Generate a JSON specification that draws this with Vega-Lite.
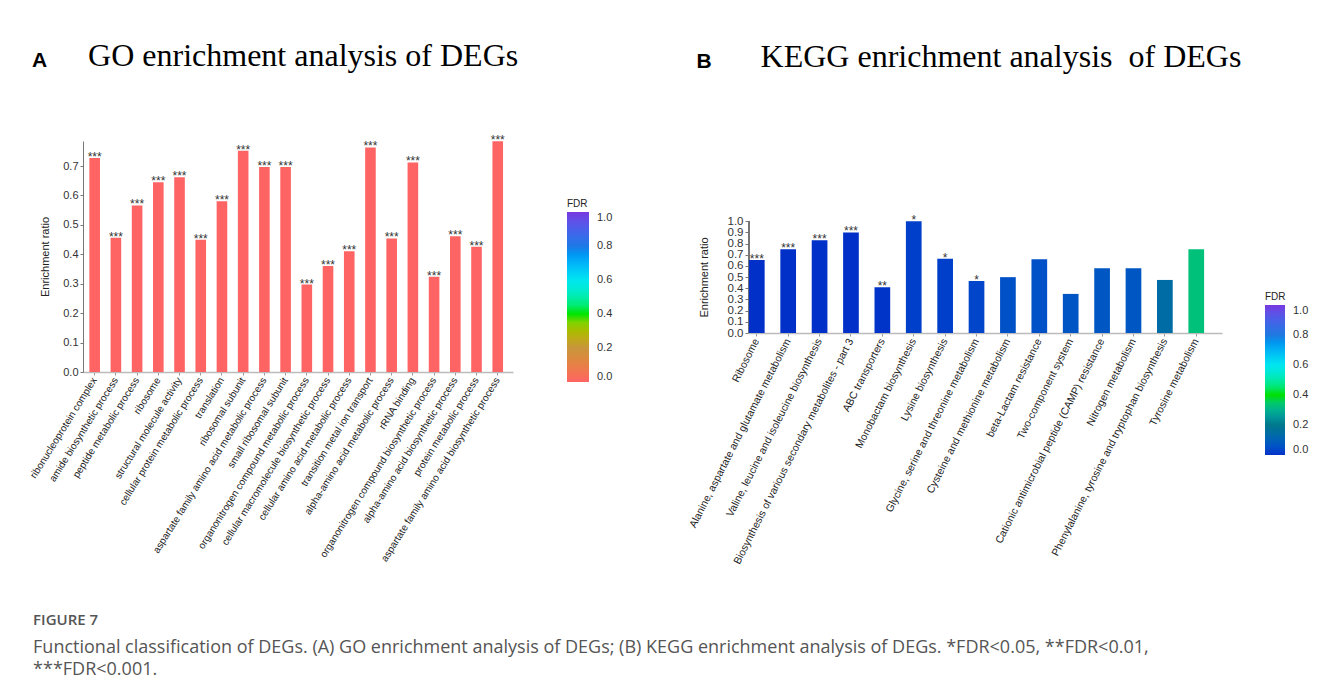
{
  "$schema": "https://vega.github.io/schema/vega-lite/v6.json",
  "background": "white",
  "padding": {"left": 28, "top": 40, "right": 5, "bottom": 5},
  "config": {
    "font": "Liberation Sans",
    "view": {"stroke": null},
    "axis": {"grid": false, "labelFont": "Liberation Sans", "titleFont": "Liberation Sans"}
  },
  "title": {
    "text": "FIGURE 7",
    "orient": "bottom",
    "anchor": "start",
    "offset": 47,
    "dx": 5,
    "font": "Open Sans",
    "fontSize": 15,
    "fontWeight": 600,
    "color": "#555555",
    "subtitle": ["Functional classification of DEGs. (A) GO enrichment analysis of DEGs; (B) KEGG enrichment analysis of DEGs. *FDR<0.05, **FDR<0.01,", "***FDR<0.001."],
    "subtitleFont": "Open Sans",
    "subtitleFontSize": 18,
    "subtitleColor": "#555555",
    "subtitleLineHeight": 22,
    "subtitlePadding": 11
  },
  "columns": 2,
  "align": "none",
  "spacing": 74,
  "resolve": {"scale": {"color": "independent"}, "legend": {"color": "independent"}},
  "concat": [
    {
      "width": 430,
      "height": 231,
      "title": {
        "text": "\u200b\u00a0\u00a0\u00a0\u00a0\u00a0\u00a0\u00a0GO enrichment analysis of DEGs",
        "font": "Liberation Serif",
        "fontSize": 32,
        "fontWeight": "normal",
        "color": "#000000",
        "anchor": "start",
        "frame": "bounds",
        "offset": 61,
        "dx": 4,
        "subtitle": "A",
        "subtitleFont": "Liberation Sans",
        "subtitleFontSize": 21,
        "subtitleFontWeight": "bold",
        "subtitleColor": "#000000",
        "subtitlePadding": -23
      },
      "data": {"values": [
        {"term": "ribonucleoprotein complex", "ratio": 0.727, "FDR": 0, "sig": "***"},
        {"term": "amide biosynthetic process", "ratio": 0.456, "FDR": 0, "sig": "***"},
        {"term": "peptide metabolic process", "ratio": 0.566, "FDR": 0, "sig": "***"},
        {"term": "ribosome", "ratio": 0.645, "FDR": 0, "sig": "***"},
        {"term": "structural molecule activity", "ratio": 0.662, "FDR": 0, "sig": "***"},
        {"term": "cellular protein metabolic process", "ratio": 0.449, "FDR": 0, "sig": "***"},
        {"term": "translation", "ratio": 0.58, "FDR": 0, "sig": "***"},
        {"term": "ribosomal subunit", "ratio": 0.752, "FDR": 0, "sig": "***"},
        {"term": "aspartate family amino acid metabolic process", "ratio": 0.697, "FDR": 0, "sig": "***"},
        {"term": "small ribosomal subunit", "ratio": 0.697, "FDR": 0, "sig": "***"},
        {"term": "organonitrogen compound metabolic process", "ratio": 0.297, "FDR": 0, "sig": "***"},
        {"term": "cellular macromolecule biosynthetic process", "ratio": 0.36, "FDR": 0, "sig": "***"},
        {"term": "cellular amino acid metabolic process", "ratio": 0.41, "FDR": 0, "sig": "***"},
        {"term": "transition metal ion transport", "ratio": 0.763, "FDR": 0, "sig": "***"},
        {"term": "alpha-amino acid metabolic process", "ratio": 0.454, "FDR": 0, "sig": "***"},
        {"term": "rRNA binding", "ratio": 0.712, "FDR": 0, "sig": "***"},
        {"term": "organonitrogen compound biosynthetic process", "ratio": 0.324, "FDR": 0, "sig": "***"},
        {"term": "alpha-amino acid biosynthetic process", "ratio": 0.461, "FDR": 0, "sig": "***"},
        {"term": "protein metabolic process", "ratio": 0.426, "FDR": 0, "sig": "***"},
        {"term": "aspartate family amino acid biosynthetic process", "ratio": 0.784, "FDR": 0, "sig": "***"}
      ]},
      "encoding": {
        "x": {
          "field": "term", "type": "nominal", "sort": null,
          "scale": {"paddingInner": 0.5, "paddingOuter": 0.385, "align": 0.39},
          "axis": {"title": null, "labelAngle": -58, "labelFontSize": 10, "labelColor": "#222222", "labelPadding": 3, "domainColor": "#bbbbbb", "domainWidth": 1.5, "tickColor": "#999999", "tickSize": 3, "labelLimit": 400}
        },
        "y": {
          "field": "ratio", "type": "quantitative",
          "scale": {"domain": [0, 0.785], "nice": false, "zero": true},
          "axis": {"title": "Enrichment ratio", "titleFontSize": 11, "titleFontWeight": "normal", "titleColor": "#222222", "titlePadding": 12, "values": [0, 0.1, 0.2, 0.3, 0.4, 0.5, 0.6, 0.7], "format": ".1f", "labelFontSize": 11, "labelColor": "#333333", "labelPadding": 2, "tickSize": 3, "domainColor": "#777777", "tickColor": "#777777"}
        }
      },
      "layer": [
        {
          "mark": {"type": "bar"},
          "encoding": {
            "color": {
              "field": "FDR", "type": "quantitative",
              "scale": {"domain": [0, 0.2, 0.4, 0.6, 0.8, 1], "range": ["#ff6464", "#c8963c", "#00e600", "#00e6f0", "#1e78e6", "#7838e0"]},
              "legend": {"title": "FDR", "orient": "none", "legendX": 484, "legendY": 58, "direction": "vertical", "gradientLength": 170, "gradientThickness": 22, "titleFontSize": 10, "titleFontWeight": "normal", "titleColor": "#222222", "titlePadding": 3, "labelFontSize": 11, "labelColor": "#333333", "labelOffset": 8, "labelBaseline": "middle", "values": [0, 0.2, 0.4, 0.6, 0.8, 1], "format": ".1f", "gradientStrokeWidth": 0, "labelOverlap": false}
            }
          }
        },
        {
          "mark": {"type": "text", "baseline": "alphabetic", "dy": 3, "fontSize": 12, "color": "#333333"},
          "encoding": {"text": {"field": "sig"}}
        }
      ]
    },
    {
      "width": 474,
      "height": 192,
      "title": {
        "text": "\u200b\u00a0\u00a0\u00a0\u00a0\u00a0\u00a0\u00a0\u00a0KEGG enrichment analysis\u00a0\u00a0of DEGs",
        "font": "Liberation Serif",
        "fontSize": 32,
        "fontWeight": "normal",
        "color": "#000000",
        "anchor": "start",
        "frame": "bounds",
        "offset": 67,
        "dx": 9,
        "subtitle": "B",
        "subtitleFont": "Liberation Sans",
        "subtitleFontSize": 21,
        "subtitleFontWeight": "bold",
        "subtitleColor": "#000000",
        "subtitlePadding": -23
      },
      "data": {"values": [
        {"term": "Ribosome", "ratio": 0.654, "FDR": 0.0005, "sig": "***"},
        {"term": "Alanine, aspartate and glutamate metabolism", "ratio": 0.75, "FDR": 0.0005, "sig": "***"},
        {"term": "Valine, leucine and isoleucine biosynthesis", "ratio": 0.83, "FDR": 0.0005, "sig": "***"},
        {"term": "Biosynthesis of various secondary metabolites - part 3", "ratio": 0.9, "FDR": 0.0005, "sig": "***"},
        {"term": "ABC transporters", "ratio": 0.41, "FDR": 0.005, "sig": "**"},
        {"term": "Monobactam biosynthesis", "ratio": 1.0, "FDR": 0.02, "sig": "*"},
        {"term": "Lysine biosynthesis", "ratio": 0.665, "FDR": 0.02, "sig": "*"},
        {"term": "Glycine, serine and threonine metabolism", "ratio": 0.465, "FDR": 0.03, "sig": "*"},
        {"term": "Cysteine and methionine metabolism", "ratio": 0.5, "FDR": 0.055, "sig": ""},
        {"term": "beta-Lactam resistance", "ratio": 0.66, "FDR": 0.055, "sig": ""},
        {"term": "Two-component system", "ratio": 0.35, "FDR": 0.065, "sig": ""},
        {"term": "Cationic antimicrobial peptide (CAMP) resistance", "ratio": 0.58, "FDR": 0.07, "sig": ""},
        {"term": "Nitrogen metabolism", "ratio": 0.58, "FDR": 0.07, "sig": ""},
        {"term": "Phenylalanine, tyrosine and tryptophan biosynthesis", "ratio": 0.475, "FDR": 0.14, "sig": ""},
        {"term": "Tyrosine metabolism", "ratio": 0.75, "FDR": 0.33, "sig": ""}
      ]},
      "encoding": {
        "x": {
          "field": "term", "type": "nominal", "sort": null,
          "scale": {"paddingInner": 0.5, "paddingOuter": 0.3, "align": 0.05},
          "axis": {"title": null, "labelAngle": -63, "labelFontSize": 10.5, "labelColor": "#222222", "labelPadding": 3, "domainColor": "#bbbbbb", "domainWidth": 1.5, "tickColor": "#999999", "tickSize": 3, "labelLimit": 400}
        },
        "y": {
          "field": "ratio", "type": "quantitative",
          "scale": {"domain": [0, 1.719], "nice": false},
          "axis": {"title": "Enrichment ratio", "titleFontSize": 11, "titleFontWeight": "normal", "titleColor": "#222222", "titlePadding": 18, "titleY": 136, "domain": false, "values": [0, 0.1, 0.2, 0.3, 0.4, 0.5, 0.6, 0.7, 0.8, 0.9, 1.0], "format": ".1f", "labelFontSize": 11.5, "labelColor": "#333333", "labelPadding": 2, "labelOverlap": false, "tickSize": 3, "tickColor": "#777777"}
        }
      },
      "layer": [
        {
          "mark": {"type": "rule", "color": "#777777", "strokeWidth": 1},
          "encoding": {
            "x": {"datum": "Ribosome", "type": "nominal", "bandPosition": 0},
            "y": {"datum": 0, "type": "quantitative"},
            "y2": {"datum": 1}
          }
        },
        {
          "mark": {"type": "bar"},
          "encoding": {
            "color": {
              "field": "FDR", "type": "quantitative",
              "scale": {"domain": [0, 0.2, 0.4, 0.6, 0.8, 1], "range": ["#0530c8", "#00788c", "#00e000", "#00e6f0", "#2078e0", "#7838e0"]},
              "legend": {"title": "FDR", "orient": "none", "legendX": 517, "legendY": 151, "direction": "vertical", "gradientLength": 150, "gradientThickness": 20, "titleFontSize": 10, "titleFontWeight": "normal", "titleColor": "#222222", "titlePadding": 3, "labelFontSize": 11, "labelColor": "#333333", "labelOffset": 8, "labelBaseline": "middle", "values": [0, 0.2, 0.4, 0.6, 0.8, 1], "format": ".1f", "gradientStrokeWidth": 0, "labelOverlap": false}
            }
          }
        },
        {
          "mark": {"type": "text", "baseline": "alphabetic", "dy": 3, "fontSize": 12, "color": "#333333"},
          "encoding": {"text": {"field": "sig"}}
        }
      ]
    }
  ]
}
